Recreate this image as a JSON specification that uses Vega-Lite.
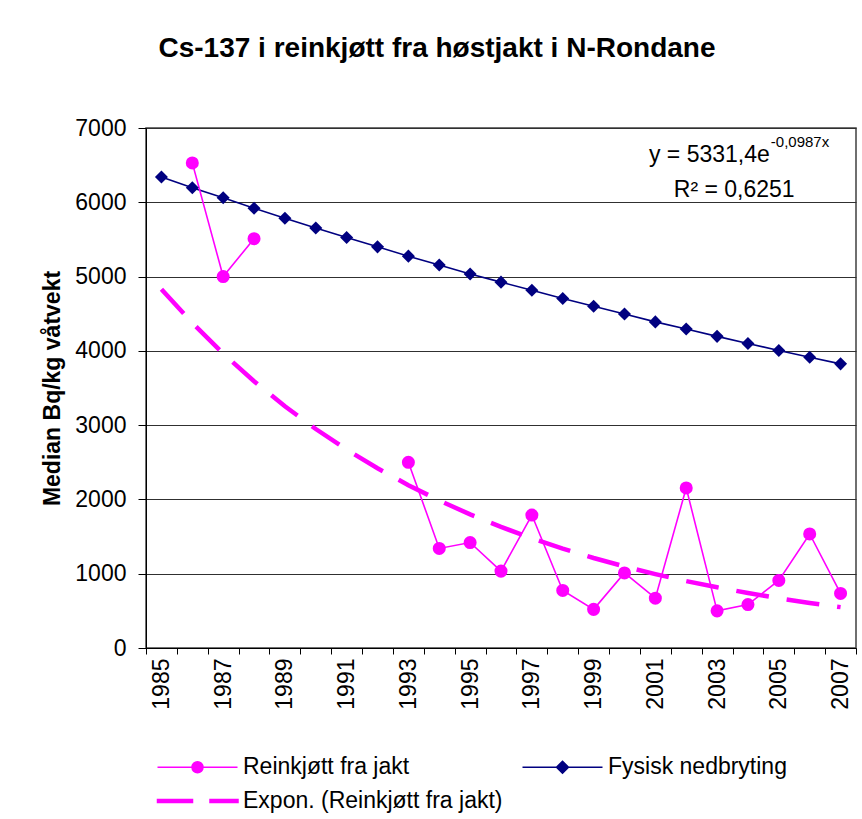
{
  "$schema": "https://vega.github.io/schema/vega-lite/v6.json",
  "width": 710,
  "height": 520,
  "autosize": {"type": "none"},
  "padding": {"left": 146, "top": 128, "right": 6, "bottom": 171},
  "background": "white",
  "title": {
    "text": "Cs-137 i reinkjøtt fra høstjakt i N-Rondane",
    "font": "Liberation Sans",
    "fontSize": 28,
    "fontWeight": "bold",
    "color": "black",
    "anchor": "middle",
    "dx": -64,
    "offset": 54
  },
  "config": {
    "font": "Liberation Sans",
    "view": {"stroke": "#404040", "strokeWidth": 1.5},
    "axis": {
      "labelFont": "Liberation Sans",
      "labelColor": "black",
      "labelFontSize": 23,
      "domainColor": "black",
      "tickColor": "black",
      "titleFont": "Liberation Sans",
      "titleColor": "black"
    }
  },
  "data": {
    "values": [
      {"year": 1985, "series": "Fysisk nedbryting", "period": "all", "value": 6340},
      {"year": 1986, "series": "Fysisk nedbryting", "period": "all", "value": 6195},
      {"year": 1987, "series": "Fysisk nedbryting", "period": "all", "value": 6060},
      {"year": 1988, "series": "Fysisk nedbryting", "period": "all", "value": 5920},
      {"year": 1989, "series": "Fysisk nedbryting", "period": "all", "value": 5785},
      {"year": 1990, "series": "Fysisk nedbryting", "period": "all", "value": 5655},
      {"year": 1991, "series": "Fysisk nedbryting", "period": "all", "value": 5525},
      {"year": 1992, "series": "Fysisk nedbryting", "period": "all", "value": 5400},
      {"year": 1993, "series": "Fysisk nedbryting", "period": "all", "value": 5275},
      {"year": 1994, "series": "Fysisk nedbryting", "period": "all", "value": 5155},
      {"year": 1995, "series": "Fysisk nedbryting", "period": "all", "value": 5035},
      {"year": 1996, "series": "Fysisk nedbryting", "period": "all", "value": 4925},
      {"year": 1997, "series": "Fysisk nedbryting", "period": "all", "value": 4815},
      {"year": 1998, "series": "Fysisk nedbryting", "period": "all", "value": 4705},
      {"year": 1999, "series": "Fysisk nedbryting", "period": "all", "value": 4600},
      {"year": 2000, "series": "Fysisk nedbryting", "period": "all", "value": 4495},
      {"year": 2001, "series": "Fysisk nedbryting", "period": "all", "value": 4390},
      {"year": 2002, "series": "Fysisk nedbryting", "period": "all", "value": 4295},
      {"year": 2003, "series": "Fysisk nedbryting", "period": "all", "value": 4195},
      {"year": 2004, "series": "Fysisk nedbryting", "period": "all", "value": 4100},
      {"year": 2005, "series": "Fysisk nedbryting", "period": "all", "value": 4005},
      {"year": 2006, "series": "Fysisk nedbryting", "period": "all", "value": 3915},
      {"year": 2007, "series": "Fysisk nedbryting", "period": "all", "value": 3825},
      {"year": 1986, "series": "Reinkjøtt fra jakt", "period": "early", "value": 6530},
      {"year": 1987, "series": "Reinkjøtt fra jakt", "period": "early", "value": 5000},
      {"year": 1988, "series": "Reinkjøtt fra jakt", "period": "early", "value": 5510},
      {"year": 1993, "series": "Reinkjøtt fra jakt", "period": "late", "value": 2500},
      {"year": 1994, "series": "Reinkjøtt fra jakt", "period": "late", "value": 1340},
      {"year": 1995, "series": "Reinkjøtt fra jakt", "period": "late", "value": 1420},
      {"year": 1996, "series": "Reinkjøtt fra jakt", "period": "late", "value": 1035},
      {"year": 1997, "series": "Reinkjøtt fra jakt", "period": "late", "value": 1790},
      {"year": 1998, "series": "Reinkjøtt fra jakt", "period": "late", "value": 775},
      {"year": 1999, "series": "Reinkjøtt fra jakt", "period": "late", "value": 520},
      {"year": 2000, "series": "Reinkjøtt fra jakt", "period": "late", "value": 1010},
      {"year": 2001, "series": "Reinkjøtt fra jakt", "period": "late", "value": 670},
      {"year": 2002, "series": "Reinkjøtt fra jakt", "period": "late", "value": 2155},
      {"year": 2003, "series": "Reinkjøtt fra jakt", "period": "late", "value": 500},
      {"year": 2004, "series": "Reinkjøtt fra jakt", "period": "late", "value": 585},
      {"year": 2005, "series": "Reinkjøtt fra jakt", "period": "late", "value": 910},
      {"year": 2006, "series": "Reinkjøtt fra jakt", "period": "late", "value": 1535},
      {"year": 2007, "series": "Reinkjøtt fra jakt", "period": "late", "value": 735},
      {"year": 1985, "series": "Expon. (Reinkjøtt fra jakt)", "period": "all", "value": 4830},
      {"year": 1986, "series": "Expon. (Reinkjøtt fra jakt)", "period": "all", "value": 4376},
      {"year": 1987, "series": "Expon. (Reinkjøtt fra jakt)", "period": "all", "value": 3964},
      {"year": 1988, "series": "Expon. (Reinkjøtt fra jakt)", "period": "all", "value": 3592},
      {"year": 1989, "series": "Expon. (Reinkjøtt fra jakt)", "period": "all", "value": 3254},
      {"year": 1990, "series": "Expon. (Reinkjøtt fra jakt)", "period": "all", "value": 2948},
      {"year": 1991, "series": "Expon. (Reinkjøtt fra jakt)", "period": "all", "value": 2671},
      {"year": 1992, "series": "Expon. (Reinkjøtt fra jakt)", "period": "all", "value": 2420},
      {"year": 1993, "series": "Expon. (Reinkjøtt fra jakt)", "period": "all", "value": 2192},
      {"year": 1994, "series": "Expon. (Reinkjøtt fra jakt)", "period": "all", "value": 1986},
      {"year": 1995, "series": "Expon. (Reinkjøtt fra jakt)", "period": "all", "value": 1799},
      {"year": 1996, "series": "Expon. (Reinkjøtt fra jakt)", "period": "all", "value": 1630},
      {"year": 1997, "series": "Expon. (Reinkjøtt fra jakt)", "period": "all", "value": 1477},
      {"year": 1998, "series": "Expon. (Reinkjøtt fra jakt)", "period": "all", "value": 1338},
      {"year": 1999, "series": "Expon. (Reinkjøtt fra jakt)", "period": "all", "value": 1212},
      {"year": 2000, "series": "Expon. (Reinkjøtt fra jakt)", "period": "all", "value": 1098},
      {"year": 2001, "series": "Expon. (Reinkjøtt fra jakt)", "period": "all", "value": 995},
      {"year": 2002, "series": "Expon. (Reinkjøtt fra jakt)", "period": "all", "value": 901},
      {"year": 2003, "series": "Expon. (Reinkjøtt fra jakt)", "period": "all", "value": 817},
      {"year": 2004, "series": "Expon. (Reinkjøtt fra jakt)", "period": "all", "value": 740},
      {"year": 2005, "series": "Expon. (Reinkjøtt fra jakt)", "period": "all", "value": 670},
      {"year": 2006, "series": "Expon. (Reinkjøtt fra jakt)", "period": "all", "value": 607},
      {"year": 2007, "series": "Expon. (Reinkjøtt fra jakt)", "period": "all", "value": 550}
    ]
  },
  "encoding": {
    "x": {
      "field": "year",
      "type": "ordinal",
      "scale": {"type": "band", "paddingInner": 0, "paddingOuter": 0},
      "axis": {
        "title": null,
        "labelAngle": -90,
        "tickBand": "extent",
        "tickSize": 6,
        "labelPadding": 4,
        "labelExpr": "datum.value % 2 === 1 ? datum.label : ''",
        "grid": false
      }
    },
    "y": {
      "field": "value",
      "type": "quantitative",
      "scale": {"domain": [0, 7000], "nice": false},
      "axis": {
        "values": [0, 1000, 2000, 3000, 4000, 5000, 6000, 7000],
        "format": "d",
        "title": "Median Bq/kg våtvekt",
        "titleFontSize": 23,
        "titleFontWeight": "bold",
        "titlePadding": 10,
        "tickSize": 8,
        "labelPadding": 12,
        "grid": true,
        "gridColor": "#303030",
        "gridWidth": 1.2
      }
    }
  },
  "layer": [
    {
      "transform": [{"filter": "datum.series !== 'Expon. (Reinkjøtt fra jakt)'"}],
      "mark": {"type": "line", "strokeWidth": 1.6},
      "encoding": {
        "detail": {"field": "period"},
        "color": {
          "field": "series",
          "type": "nominal",
          "scale": {
            "domain": ["Reinkjøtt fra jakt", "Fysisk nedbryting", "Expon. (Reinkjøtt fra jakt)"],
            "range": ["#FF00FF", "#000080", "#FF00FF"]
          },
          "legend": {
            "title": null,
            "orient": "none",
            "direction": "horizontal",
            "legendX": 11,
            "legendY": 627.5,
            "columns": 2,
            "columnPadding": 16,
            "rowPadding": 10,
            "padding": 0,
            "labelFont": "Liberation Sans",
            "labelFontSize": 23,
            "labelColor": "black",
            "labelLimit": 500,
            "symbolSize": 100,
            "symbolStrokeWidth": 1.5,
            "symbolOffset": 29,
            "labelOffset": 34,
            "encode": {
              "symbols": {
                "update": {
                  "shape": {"signal": "datum.value === 'Reinkjøtt fra jakt' ? 'M-8,0H8M-1.1,0A1.1,1.1 0 1,0 1.1,0A1.1,1.1 0 1,0 -1.1,0Z' : datum.value === 'Fysisk nedbryting' ? 'M-8,0H8M0,-1.2L1.2,0L0,1.2L-1.2,0Z' : 'M-8,-0.3H-1V0.3H-8ZM2.5,-0.3H8.1V0.3H2.5Z'"},
                  "fill": {"signal": "datum.value === 'Fysisk nedbryting' ? '#000080' : '#FF00FF'"},
                  "stroke": {"signal": "datum.value === 'Fysisk nedbryting' ? '#000080' : '#FF00FF'"},
                  "fillOpacity": {"value": 1},
                  "opacity": {"value": 1},
                  "size": {"value": 100},
                  "strokeWidth": {"value": 1.5}
                }
              }
            }
          }
        }
      }
    },
    {
      "transform": [{"filter": "datum.series !== 'Expon. (Reinkjøtt fra jakt)'"}],
      "mark": {"type": "point", "filled": true, "opacity": 1, "size": 170},
      "encoding": {
        "color": {"field": "series", "type": "nominal", "legend": null},
        "shape": {
          "field": "series",
          "type": "nominal",
          "scale": {"domain": ["Reinkjøtt fra jakt", "Fysisk nedbryting"], "range": ["circle", "diamond"]},
          "legend": null
        }
      }
    },
    {
      "transform": [{"filter": "datum.series === 'Expon. (Reinkjøtt fra jakt)'"}],
      "mark": {"type": "line", "color": "#FF00FF", "strokeWidth": 4.5, "strokeDash": [33, 18]},
      "encoding": {}
    },
    {
      "transform": [{"filter": "datum.series === 'Fysisk nedbryting' && datum.year === 2005"}],
      "mark": {"type": "text", "text": "y = 5331,4e", "align": "right", "baseline": "alphabetic", "fontSize": 23, "color": "black", "font": "Liberation Sans", "dx": -9, "dy": -3},
      "encoding": {"x": {"datum": 2005}, "y": {"datum": 6500}}
    },
    {
      "transform": [{"filter": "datum.series === 'Fysisk nedbryting' && datum.year === 2005"}],
      "mark": {"type": "text", "text": "-0,0987x", "align": "left", "baseline": "alphabetic", "fontSize": 15, "color": "black", "font": "Liberation Sans", "dx": -8, "dy": -18},
      "encoding": {"x": {"datum": 2005}, "y": {"datum": 6500}}
    },
    {
      "transform": [{"filter": "datum.series === 'Fysisk nedbryting' && datum.year === 2005"}],
      "mark": {"type": "text", "text": "R² = 0,6251", "align": "left", "baseline": "alphabetic", "fontSize": 23, "color": "black", "font": "Liberation Sans", "dx": -105, "dy": 32},
      "encoding": {"x": {"datum": 2005}, "y": {"datum": 6500}}
    }
  ]
}
